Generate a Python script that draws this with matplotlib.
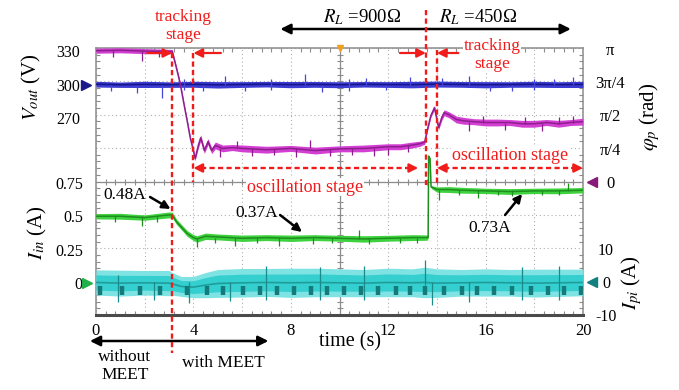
import numpy as np
import matplotlib
matplotlib.use("Agg")
import matplotlib.pyplot as plt
from matplotlib.ticker import MultipleLocator, FixedLocator, FixedFormatter
from matplotlib.transforms import blended_transform_factory

plt.rcParams['font.family'] = ['Liberation Serif', 'DejaVu Serif']
plt.rcParams['mathtext.fontset'] = 'stix'

# ---------------- data ----------------
x_ticks = [0, 2, 4, 6, 8, 10, 12, 14, 16, 18, 20]
x_tick_labels = ['0', '', '4', '', '8', '', '12', '', '16', '', '20']

vout_ticks = [270, 300, 330]
iin_ticks = [0, 0.25, 0.5, 0.75]
iin_tick_labels = ['0', '0.25', '0.5', '0.75']
phase_ticks = [0, np.pi / 4, np.pi / 2, 3 * np.pi / 4, np.pi]
phase_tick_labels = ['0', 'π/4', 'π/2', '3π/4', 'π']
ipi_ticks = [-10, 0, 10]
ipi_tick_labels = ['-10', '0', '10']

# Vout (V) - blue
vout_t = [0, 1, 2, 3, 4, 5, 6, 7, 8, 9, 10, 11, 12, 13, 14, 15, 16, 17, 18, 19, 20]
vout_c = [300.3, 299.8, 300.1, 299.9, 300.2, 299.7, 300.0, 300.3, 299.9, 300.1, 299.8,
          300.2, 300.0, 299.9, 300.4, 300.1, 299.8, 300.0, 300.2, 299.9, 300.1]
vout_s = [2.6, 2.4, 2.8, 2.5, 2.7, 2.9, 2.6, 2.5, 2.8, 2.6, 2.7,
          2.5, 2.6, 2.9, 2.7, 2.6, 2.8, 2.5, 2.7, 2.6, 2.8]
vout_spk_t = [0.6, 1.7, 2.7, 3.6, 4.4, 5.3, 6.1, 7.2, 8.6, 9.3, 10.4, 11.1, 11.9,
              12.9, 14.2, 15.3, 16.2, 17.1, 18.0, 18.8, 19.6]
vout_spk_lo = [294, 292, 288, 295, 294, 300, 294, 295, 300, 293, 294, 300, 295,
               300, 300, 300, 294, 294, 295, 300, 300]
vout_spk_hi = [300, 300, 300, 305, 300, 308, 300, 305, 309, 300, 305, 306, 300,
               307, 306, 308, 300, 300, 305, 305, 307]

# phase (rad) - purple
phase_t = [0, 1, 2, 3.13, 3.3, 3.46, 3.6, 3.75, 3.87, 4.0, 4.07, 4.2, 4.3, 4.45, 4.6,
           4.75, 4.9, 5.2, 5.6, 6, 7, 8, 9, 10, 11, 12, 12.5, 13, 13.3, 13.5, 13.6,
           13.75, 13.9, 14.0, 14.07, 14.2, 14.3, 14.5, 14.8, 15.1, 15.5, 16, 16.5,
           17, 17.5, 18, 18.5, 19, 19.5, 20]
phase_c = [3.09, 3.10, 3.08, 3.07, 2.69, 2.31, 1.87, 1.42, 1.04, 0.74,
           0.55, 0.86, 1.04, 0.74, 0.95, 0.74, 0.86, 0.79, 0.81, 0.79,
           0.76, 0.79, 0.74, 0.78, 0.79, 0.83, 0.83, 0.87, 0.90, 0.94,
           1.21, 1.56, 1.75, 1.47, 1.28, 1.52, 1.63, 1.58, 1.47, 1.44,
           1.42, 1.40, 1.40, 1.40, 1.37, 1.37, 1.40, 1.37, 1.40, 1.42]
phase_s = [0.06, 0.06, 0.06, 0.05, 0.04, 0.04, 0.04, 0.04, 0.04, 0.05,
           0.05, 0.07, 0.07, 0.07, 0.07, 0.07, 0.08, 0.08, 0.07, 0.08,
           0.08, 0.07, 0.08, 0.07, 0.08, 0.07, 0.07, 0.07, 0.06, 0.05,
           0.04, 0.04, 0.05, 0.05, 0.05, 0.07, 0.07, 0.07, 0.08, 0.08,
           0.07, 0.08, 0.08, 0.07, 0.08, 0.08, 0.07, 0.08, 0.07, 0.08]
phase_spk_t = [0.7, 1.9, 2.6, 5.1, 5.8, 6.4, 7.3, 8.2, 8.8, 9.6, 10.5, 11.4, 12.0,
               12.8, 15.3, 15.9, 16.8, 17.6, 18.3, 19.0, 19.6]
phase_spk_lo = [2.95, 2.85, 2.95, 0.60, 0.80, 0.62, 0.64, 0.60, 0.80, 0.62, 0.64,
                0.62, 0.63, 0.70, 1.20, 1.40, 1.22, 1.37, 1.20, 1.37, 1.40]
phase_spk_hi = [3.10, 3.10, 3.10, 0.80, 0.97, 0.80, 0.78, 0.80, 1.00, 0.78, 0.80,
                0.80, 0.80, 0.87, 1.42, 1.55, 1.40, 1.52, 1.38, 1.52, 1.56]

# Iin (A) - green
iin_t = [0, 1, 2, 3.0, 3.13, 3.3, 3.5, 3.75, 4.0, 4.15, 4.5, 5, 6, 7, 8, 9, 10, 11,
         12, 13, 13.6, 13.64, 13.66, 13.72, 13.76, 14, 14.5, 15, 16, 17, 18, 19, 20]
iin_c = [0.50, 0.50, 0.49, 0.51, 0.51, 0.46, 0.42, 0.37, 0.34, 0.33, 0.35, 0.345,
         0.335, 0.34, 0.335, 0.34, 0.335, 0.33, 0.335, 0.34, 0.34, 0.34, 0.95, 0.93,
         0.72, 0.70, 0.70, 0.695, 0.69, 0.685, 0.69, 0.69, 0.695]
iin_s = [0.020, 0.022, 0.020, 0.022, 0.020, 0.020, 0.020, 0.022, 0.022, 0.024,
         0.024, 0.022, 0.024, 0.022, 0.024, 0.022, 0.022, 0.024, 0.022, 0.022,
         0.020, 0.004, 0.004, 0.004, 0.010, 0.020, 0.022, 0.022, 0.020, 0.022,
         0.020, 0.022, 0.020]
iin_spk_t = [0.8, 1.9, 2.5, 4.15, 4.9, 5.7, 6.6, 7.5, 8.9, 9.7, 10.8, 11.2, 12.5,
             13.2, 14.1, 14.9, 15.7, 16.5, 17.1, 18.3, 19.0, 19.4]
iin_spk_lo = [0.46, 0.43, 0.46, 0.27, 0.30, 0.28, 0.30, 0.28, 0.29, 0.30, 0.33,
              0.29, 0.30, 0.30, 0.62, 0.66, 0.64, 0.66, 0.65, 0.66, 0.66, 0.69]
iin_spk_hi = [0.50, 0.50, 0.50, 0.34, 0.34, 0.34, 0.34, 0.34, 0.34, 0.34, 0.40,
              0.34, 0.34, 0.34, 0.70, 0.70, 0.70, 0.70, 0.70, 0.70, 0.70, 0.75]

# Ipi (A) - cyan
ipi_t = [0, 1, 2, 3, 3.13, 3.5, 4.0, 4.5, 5, 6, 7, 8, 9, 10, 11, 12, 13, 13.5, 14,
         15, 16, 17, 18, 19, 20]
ipi_c = [-0.2, -0.4, -0.3, -0.4, -0.6, -1.4, -1.6, -1.0, -0.5, -0.3, -0.2, -0.3,
         -0.2, -0.3, -0.4, -0.2, -0.3, -0.2, -0.4, -0.3, -0.2, -0.3, -0.4, -0.3, -0.2]
ipi_s = [3.8, 3.9, 3.7, 3.8, 3.4, 3.0, 3.2, 3.8, 4.2, 4.3, 4.2, 4.4, 4.3, 4.2, 4.1,
         4.3, 4.2, 4.6, 4.3, 4.0, 4.1, 4.0, 4.2, 4.1, 4.0]
ipi_blob_t = [0.16, 1.06, 1.81, 2.63, 3.73, 4.55, 5.23, 6.05, 6.74, 7.43, 8.12, 8.81,
              9.49, 10.2, 10.9, 11.6, 12.3, 12.9, 13.5, 14.3, 15.05, 15.66, 16.35,
              17.1, 17.86, 18.55, 19.23, 19.92]
ipi_spk_t = [0.9, 2.4, 3.8, 5.5, 7.0, 9.2, 11.0, 13.5, 13.8, 15.3, 17.5, 19.0]
ipi_spk_lo = [-6.0, -5.5, -6.5, -5.8, -5.5, -5.6, -5.4, -1.0, -7.0, -6.0, -5.5, -5.4]
ipi_spk_hi = [2.0, 0.0, 0.0, 0.0, 4.8, 4.6, 4.8, 6.5, 0.0, 0.0, 4.6, 4.7]

vout_ref, phase_ref, iin_ref, ipi_ref = 300, 0, 0, 0
stage_t = [3.13, 4.0, 13.55, 14.0]

# ---------------- figure ----------------
W, H = 679, 390
fig = plt.figure(figsize=(W / 100, H / 100), dpi=100)
L, R, T, B = 96, 583, 48, 315
rect = [L / W, 1 - B / H, (R - L) / W, (B - T) / H]

GRID = '#8c8c8c'
RED = '#f01c1c'

ax_g = fig.add_axes(rect)
ax_g.set_xlim(0, 20)
ax_g.set_ylim(0, 8)
ax_g.xaxis.set_major_locator(FixedLocator(x_ticks))
ax_g.xaxis.set_major_formatter(FixedFormatter(x_tick_labels))
ax_g.yaxis.set_major_locator(FixedLocator(range(9)))
ax_g.yaxis.set_major_formatter(FixedFormatter([''] * 9))
ax_g.grid(True, color='#b0b0b0', lw=0.8, ls=(0, (1, 2.5)))

# data axes
ax_pi = ax_g.twinx()
ax_i = ax_g.twinx()
ax_v = ax_g.twinx()
ax_p = ax_g.twinx()
for a in (ax_pi, ax_i, ax_v, ax_p):
    for s in a.spines.values():
        s.set_visible(False)

d0 = (B - 283) / ((B - T) / 8)
ax_v.set_ylim(300 - 6.906 * 30, 300 + 1.094 * 30)
ax_p.set_ylim(-3.985 * np.pi / 4, 4.015 * np.pi / 4)
ax_i.set_ylim(-d0 * 0.25, (8 - d0) * 0.25)
ax_pi.set_ylim(-d0 * 10, (8 - d0) * 10)

ax_v.yaxis.tick_left()
ax_i.yaxis.tick_left()
ax_p.yaxis.tick_right()
ax_pi.yaxis.tick_right()

ax_v.set_yticks(vout_ticks)
ax_v.set_yticklabels([str(v) for v in vout_ticks])
ax_i.set_yticks(iin_ticks)
ax_i.set_yticklabels(iin_tick_labels)
ax_p.set_yticks(phase_ticks)
ax_p.set_yticklabels(phase_tick_labels)
ax_pi.set_yticks(ipi_ticks)
ax_pi.set_yticklabels(ipi_tick_labels)

ax_v.tick_params(axis='y', length=0, pad=11.5, labelsize=11.5)
ax_i.tick_params(axis='y', length=0, pad=9.5, labelsize=11.5)
ax_p.tick_params(axis='y', length=0, pad=19.5, labelsize=12)
ax_pi.tick_params(axis='y', length=0, pad=16.5, labelsize=11.5)
plt.setp(ax_p.get_yticklabels(), ha='center')
plt.setp(ax_pi.get_yticklabels(), ha='center')

ax_g.tick_params(which='major', length=0, labelsize=12, pad=6)
ax_g.xaxis.set_minor_locator(MultipleLocator(0.4))
ax_g.yaxis.set_minor_locator(MultipleLocator(0.2))
ax_g.tick_params(which='minor', direction='in', length=3, width=0.8, color=GRID,
                 top=True, bottom=True, left=True, right=True)
ax_g.tick_params(axis='y', which='major', left=False, right=False, labelleft=False)
ax_g.spines['bottom'].set_color('#4a4a4a')
ax_g.spines['bottom'].set_linewidth(2.2)
for s in ('top', 'left', 'right'):
    ax_g.spines[s].set_color(GRID)
    ax_g.spines[s].set_linewidth(1.1)

ax_g.axvline(10, color=GRID, lw=0.9)
ax_g.axhline(4, color=GRID, lw=0.9)
ax_g.plot(np.arange(0.4, 20, 0.4), np.full(49, 4.0), ls='none', marker='|', ms=4,
          mew=0.8, color=GRID)
ax_g.plot(np.full(39, 10.0), np.arange(0.2, 8, 0.2), ls='none', marker='_', ms=4,
          mew=0.8, color=GRID)


def trace(ax, t, c, s, band, line, lw=1.0):
    t = np.asarray(t); c = np.asarray(c); s = np.asarray(s)
    ax.fill_between(t, c - s, c + s, color=band, lw=0, zorder=2)
    ax.plot(t, c, color=line, lw=lw, zorder=3)


# Ipi (cyan)
ipi_tt = np.asarray(ipi_t); ipi_cc = np.asarray(ipi_c); ipi_ss = np.asarray(ipi_s)
ax_pi.fill_between(ipi_tt, ipi_cc - ipi_ss, ipi_cc + ipi_ss, color='#7fe3e3', lw=0, zorder=2)
ax_pi.fill_between(ipi_tt, ipi_cc - 0.6 * ipi_ss, ipi_cc + 0.6 * ipi_ss, color='#35cfcf',
                   lw=0, zorder=2)
ax_pi.plot(ipi_tt, ipi_cc, color='#1f9d9d', lw=1.2, zorder=3)
ax_pi.vlines(ipi_blob_t, -1.2, -4.0, color='#157a7a', lw=3.2, zorder=4)
ax_pi.vlines(ipi_spk_t, ipi_spk_lo, ipi_spk_hi, color='#1a8a8a', lw=0.9, zorder=4)

# Iin (green)
trace(ax_i, iin_t, iin_c, iin_s, '#3fd23f', '#1e8e1e', lw=1.1)
ax_i.vlines(iin_spk_t, iin_spk_lo, iin_spk_hi, color='#1e8e1e', lw=0.9, zorder=4)

# Vout (blue)
trace(ax_v, vout_t, vout_c, vout_s, '#3c3cd2', '#16168c', lw=1.2)
ax_v.vlines(vout_spk_t, vout_spk_lo, vout_spk_hi, color='#4646d8', lw=0.9, zorder=4)

# phase (purple)
trace(ax_p, phase_t, phase_c, phase_s, '#d23fd2', '#8e1e8e', lw=1.1)
ax_p.vlines(phase_spk_t, phase_spk_lo, phase_spk_hi, color='#8e1e8e', lw=0.9, zorder=4)

# level markers
bl = blended_transform_factory(ax_v.transAxes, ax_v.transData)
ax_v.plot([-0.0205], [vout_ref], marker='>', ms=7, color='#1a1a8c', transform=bl,
          clip_on=False)
bl = blended_transform_factory(ax_i.transAxes, ax_i.transData)
ax_i.plot([-0.0185], [iin_ref], marker='>', ms=7, color='#22b04a', transform=bl,
          clip_on=False)
bl = blended_transform_factory(ax_p.transAxes, ax_p.transData)
ax_p.plot([1.0185], [phase_ref], marker='<', ms=7, color='#8a1a7a', transform=bl,
          clip_on=False)
bl = blended_transform_factory(ax_pi.transAxes, ax_pi.transData)
ax_pi.plot([1.0185], [ipi_ref], marker='<', ms=7, color='#138080', transform=bl,
           clip_on=False)
ax_g.plot([10], [8], marker='v', ms=5, color='#f0a020', clip_on=False, zorder=5)

# ---------------- overlay annotations ----------------
ax_o = fig.add_axes(rect, frameon=False)
ax_o.set_xlim(0, 20)
ax_o.set_ylim(B, T)  # y in screen pixels from top
ax_o.set_axis_off()

dash = (0, (2.2, 1.4))
ev_y = [(53, 353), (53, 182), (10, 185), (50, 185)]
for t0, (y0, y1) in zip(stage_t, ev_y):
    ax_o.plot([t0, t0], [y0, y1], color=RED, lw=1.7, ls=dash, clip_on=False, zorder=6)


def arrow(xy, xytext, color, lw=1.6, ms=13, style='-|>'):
    ax_o.annotate('', xy=xy, xytext=xytext, xycoords='data', textcoords='data',
                  arrowprops=dict(arrowstyle=style, color=color, lw=lw,
                                  mutation_scale=ms, shrinkA=0, shrinkB=0),
                  annotation_clip=False)


arrow((3.13, 53), (2.10, 53), RED)
arrow((4.0, 53), (5.13, 53), RED)
arrow((13.55, 53), (12.48, 53), RED)
arrow((14.0, 53), (14.88, 53), RED)

for a0, a1 in ((4.0, 13.23), (14.0, 20.0)):
    ax_o.plot([a0 + 0.3, a1 - 0.3], [168, 168], color=RED, lw=1.7, ls=dash, clip_on=False)
    arrow((a0, 168), (a0 + 0.45, 168), RED)
    arrow((a1, 168), (a1 - 0.45, 168), RED)

arrow((19.5, 29), (7.57, 29), 'k', lw=1.8, ms=15, style='<|-|>')
arrow((7.08, 341), (-0.25, 341), 'k', lw=1.8, ms=15, style='<|-|>')

arrow((3.06, 209), (2.22, 197), 'k', lw=1.8, ms=12)
arrow((8.46, 232), (7.56, 215), 'k', lw=1.8, ms=12)
arrow((17.5, 194), (16.8, 215), 'k', lw=1.8, ms=12)

ff = dict(ha='center', va='center', clip_on=False)
ax_o.text(1.19, 195, '0.48A', fontsize=12.5, **ff)
ax_o.text(6.61, 213, '0.37A', fontsize=12.5, **ff)
ax_o.text(16.18, 228, '0.73A', fontsize=12.5, **ff)

ax_o.text(3.57, 26, 'tracking\nstage', color=RED, fontsize=12.5, linespacing=1.15, **ff)
ax_o.text(16.26, 55, 'tracking\nstage', color=RED, fontsize=12.5, linespacing=1.15,
          bbox=dict(facecolor='white', edgecolor='none', pad=0.5), zorder=7, **ff)
ax_o.text(8.58, 187, 'oscillation stage', color=RED, fontsize=13,
          bbox=dict(facecolor='white', edgecolor='none', pad=0.5), zorder=7, **ff)
ax_o.text(17.0, 155, 'oscillation stage', color=RED, fontsize=13,
          bbox=dict(facecolor='white', edgecolor='none', pad=0.5), zorder=7, **ff)

ax_o.text(10.92, 17, r'$R_L$ =900Ω', fontsize=13.5, **ff)
ax_o.text(15.69, 17, r'$R_L$ =450Ω', fontsize=13.5, **ff)
ax_o.text(1.19, 366, 'without\nMEET', fontsize=12.5, linespacing=1.2, **ff)
ax_o.text(5.22, 363, 'with MEET', fontsize=12.5, **ff)
ax_o.text(10.43, 342, 'time (s)', fontsize=14.5, **ff)

ax_o.text(-2.67, 87, r'$V_{out}$ (V)', fontsize=15, rotation=90, **ff)
ax_o.text(-2.42, 233, r'$I_{in}$ (A)', fontsize=15, rotation=90, **ff)
ax_o.text(22.75, 117, r'$\varphi_p$ (rad)', fontsize=15, rotation=90, **ff)
ax_o.text(22.01, 283, r'$I_{pi}$ (A)', fontsize=15, rotation=90, **ff)

fig.savefig('out.png', dpi=100)
